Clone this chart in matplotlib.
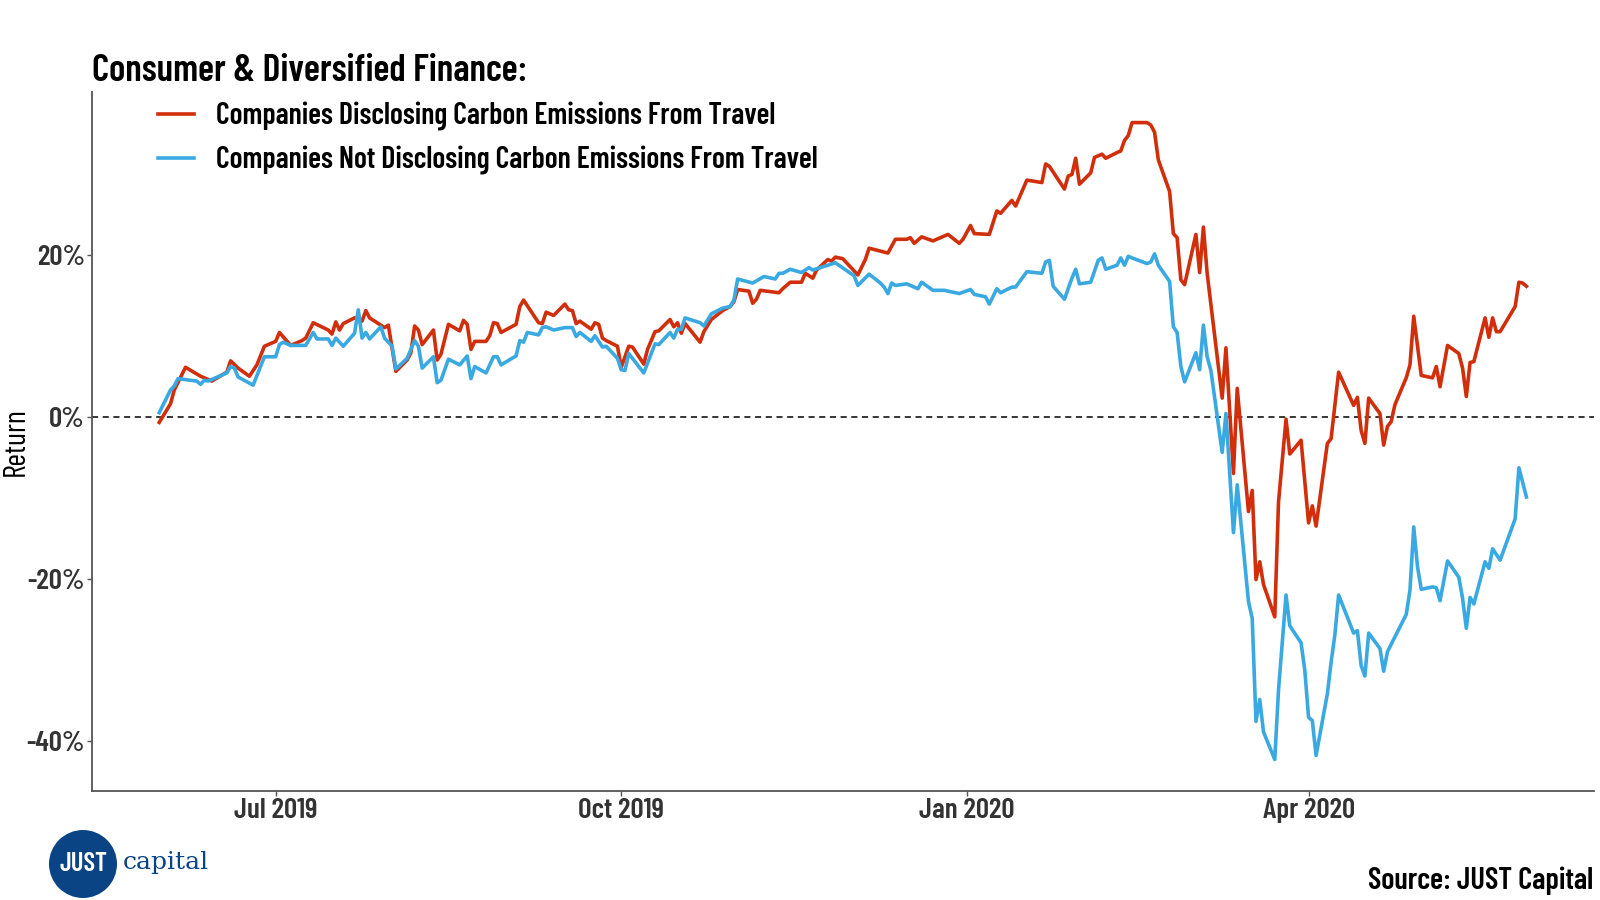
import pandas as pd
import matplotlib
matplotlib.use('Agg')
import matplotlib.pyplot as plt
import matplotlib.dates as mdates
from matplotlib.patches import Circle
from matplotlib.ticker import FuncFormatter

plt.rcParams['font.family'] = ['Barlow Condensed', 'DejaVu Sans']
plt.rcParams['font.stretch'] = 'condensed'
plt.rcParams['font.weight'] = 600

# 数据：按月读取的拐点（日期, 收益率 %）
red_dates = [
    '2019-05-31', '2019-06-03', '2019-06-04', '2019-06-07', '2019-06-11', '2019-06-12', '2019-06-14',
    '2019-06-18', '2019-06-19', '2019-06-21', '2019-06-24', '2019-06-26', '2019-06-28',
    '2019-07-01', '2019-07-02', '2019-07-05', '2019-07-08', '2019-07-09', '2019-07-11', '2019-07-15',
    '2019-07-16', '2019-07-17', '2019-07-18', '2019-07-19', '2019-07-22', '2019-07-24', '2019-07-25',
    '2019-07-26', '2019-07-30', '2019-07-31',
    '2019-08-02', '2019-08-05', '2019-08-06', '2019-08-07', '2019-08-08', '2019-08-09', '2019-08-12',
    '2019-08-13', '2019-08-14', '2019-08-16', '2019-08-19', '2019-08-20', '2019-08-21', '2019-08-22',
    '2019-08-23', '2019-08-26', '2019-08-27', '2019-08-28', '2019-08-29', '2019-08-30',
    '2019-09-03', '2019-09-04', '2019-09-05', '2019-09-06', '2019-09-09', '2019-09-10', '2019-09-11',
    '2019-09-13', '2019-09-16', '2019-09-17', '2019-09-18', '2019-09-19', '2019-09-20', '2019-09-23',
    '2019-09-24', '2019-09-25', '2019-09-26', '2019-09-27', '2019-09-30',
    '2019-10-01', '2019-10-03', '2019-10-04', '2019-10-07', '2019-10-08', '2019-10-10', '2019-10-11',
    '2019-10-14', '2019-10-15', '2019-10-16', '2019-10-17', '2019-10-18', '2019-10-22', '2019-10-23',
    '2019-10-25', '2019-10-28', '2019-10-30', '2019-10-31',
    '2019-11-01', '2019-11-04', '2019-11-05', '2019-11-06', '2019-11-07', '2019-11-12', '2019-11-13',
    '2019-11-15', '2019-11-18', '2019-11-19', '2019-11-21', '2019-11-22', '2019-11-25', '2019-11-26',
    '2019-11-27', '2019-11-29',
    '2019-12-03', '2019-12-05', '2019-12-06', '2019-12-11', '2019-12-13', '2019-12-16', '2019-12-17',
    '2019-12-18', '2019-12-20', '2019-12-23', '2019-12-27', '2019-12-30', '2019-12-31',
    '2020-01-02', '2020-01-03', '2020-01-07', '2020-01-09', '2020-01-10', '2020-01-13', '2020-01-14',
    '2020-01-17', '2020-01-21', '2020-01-22', '2020-01-23', '2020-01-27', '2020-01-28', '2020-01-29',
    '2020-01-30', '2020-01-31',
    '2020-02-03', '2020-02-04', '2020-02-06', '2020-02-07', '2020-02-10', '2020-02-11', '2020-02-12',
    '2020-02-13', '2020-02-14', '2020-02-18', '2020-02-19', '2020-02-20', '2020-02-21', '2020-02-24',
    '2020-02-25', '2020-02-26', '2020-02-27', '2020-02-28',
    '2020-03-02', '2020-03-03', '2020-03-04', '2020-03-05', '2020-03-09', '2020-03-10', '2020-03-12',
    '2020-03-13', '2020-03-16', '2020-03-17', '2020-03-18', '2020-03-19', '2020-03-20', '2020-03-23',
    '2020-03-24', '2020-03-26', '2020-03-27', '2020-03-30',
    '2020-04-01', '2020-04-02', '2020-04-03', '2020-04-06', '2020-04-07', '2020-04-09', '2020-04-13',
    '2020-04-14', '2020-04-15', '2020-04-16', '2020-04-17', '2020-04-20', '2020-04-21', '2020-04-22',
    '2020-04-23', '2020-04-24', '2020-04-27', '2020-04-28', '2020-04-29',
    '2020-05-01', '2020-05-04', '2020-05-05', '2020-05-06', '2020-05-08', '2020-05-11', '2020-05-12',
    '2020-05-13', '2020-05-14', '2020-05-15', '2020-05-18', '2020-05-19', '2020-05-20', '2020-05-21',
    '2020-05-22', '2020-05-26', '2020-05-27', '2020-05-28', '2020-05-29',
]
red_values = [
    -0.7, 1.6, 3.3, 6.1, 5.0, 4.8, 4.4, 5.5, 6.9, 6.0, 5.0, 6.4, 8.7,
    9.3, 10.4, 8.8, 9.4, 9.7, 11.6, 10.7, 10.2, 11.7, 10.7, 11.5, 12.2, 11.8, 13.1, 12.2, 11.0, 11.3,
    5.6, 7.0, 7.9, 11.2, 10.7, 8.9, 10.7, 7.0, 7.7, 11.4, 10.6, 11.9, 11.4, 8.3, 9.3, 9.3, 10.0, 11.6,
    11.5, 10.4,
    11.4, 13.6, 14.4, 13.7, 11.6, 11.5, 12.9, 12.5, 13.9, 13.2, 13.1, 11.5, 11.8, 10.8, 11.6, 11.4,
    9.7, 9.4, 8.7,
    6.1, 8.7, 8.6, 6.5, 8.3, 10.5, 10.6, 12.0, 11.1, 11.6, 10.3, 11.5, 9.2, 10.5, 12.0, 13.1, 13.6, 14.2,
    15.7, 15.5, 14.0, 14.5, 15.6, 15.3, 15.8, 16.6, 16.6, 17.7, 17.1, 18.1, 19.4, 19.2, 19.7, 19.5,
    17.5, 19.4, 20.8, 20.2, 21.9, 21.9, 22.1, 21.4, 22.2, 21.7, 22.5, 21.4, 21.9,
    23.6, 22.6, 22.5, 25.4, 25.1, 26.7, 26.0, 29.2, 28.9, 31.2, 30.9, 28.1, 29.7, 29.9, 31.9, 28.7,
    30.1, 32.0, 32.4, 31.9, 32.6, 32.8, 34.1, 34.7, 36.3, 36.3, 36.0, 35.1, 31.7, 27.8, 22.6, 22.1,
    16.9, 16.3,
    22.5, 17.8, 23.4, 17.7, 2.3, 8.5, -7.0, 3.5, -11.7, -9.1, -20.1, -17.9, -20.7, -24.7, -10.5, -0.3,
    -4.6, -2.9,
    -13.1, -11.0, -13.5, -3.3, -2.7, 5.5, 1.4, 2.4, -1.7, -3.3, 2.3, 0.4, -3.5, -1.2, -0.6, 1.5, 4.8,
    6.4, 12.4,
    5.1, 4.8, 6.2, 3.7, 8.8, 7.8, 6.0, 2.5, 6.7, 6.8, 12.2, 9.8, 12.2, 10.5, 10.5, 13.6, 16.6, 16.5, 16.1,
]

blue_dates = [
    '2019-05-31', '2019-06-03', '2019-06-04', '2019-06-05', '2019-06-10', '2019-06-11', '2019-06-12',
    '2019-06-13', '2019-06-18', '2019-06-19', '2019-06-20', '2019-06-21', '2019-06-25', '2019-06-28',
    '2019-07-01', '2019-07-02', '2019-07-03', '2019-07-05', '2019-07-09', '2019-07-11', '2019-07-12',
    '2019-07-15', '2019-07-16', '2019-07-17', '2019-07-19', '2019-07-22', '2019-07-23', '2019-07-24',
    '2019-07-25', '2019-07-26', '2019-07-29', '2019-07-30',
    '2019-08-01', '2019-08-02', '2019-08-05', '2019-08-07', '2019-08-08', '2019-08-09', '2019-08-12',
    '2019-08-13', '2019-08-14', '2019-08-16', '2019-08-19', '2019-08-21', '2019-08-22', '2019-08-23',
    '2019-08-26', '2019-08-28', '2019-08-29', '2019-08-30',
    '2019-09-03', '2019-09-04', '2019-09-05', '2019-09-06', '2019-09-09', '2019-09-10', '2019-09-11',
    '2019-09-13', '2019-09-16', '2019-09-18', '2019-09-19', '2019-09-20', '2019-09-23', '2019-09-24',
    '2019-09-26', '2019-09-27', '2019-09-30',
    '2019-10-01', '2019-10-02', '2019-10-03', '2019-10-07', '2019-10-10', '2019-10-11', '2019-10-14',
    '2019-10-15', '2019-10-16', '2019-10-17', '2019-10-18', '2019-10-22', '2019-10-23', '2019-10-25',
    '2019-10-28', '2019-10-30', '2019-10-31',
    '2019-11-01', '2019-11-05', '2019-11-08', '2019-11-11', '2019-11-12', '2019-11-13', '2019-11-15',
    '2019-11-18', '2019-11-20', '2019-11-21', '2019-11-27',
    '2019-12-02', '2019-12-03', '2019-12-06', '2019-12-09', '2019-12-10', '2019-12-11', '2019-12-12',
    '2019-12-13', '2019-12-16', '2019-12-19', '2019-12-20', '2019-12-23', '2019-12-26', '2019-12-30',
    '2020-01-02', '2020-01-03', '2020-01-06', '2020-01-07', '2020-01-09', '2020-01-10', '2020-01-13',
    '2020-01-14', '2020-01-17', '2020-01-21', '2020-01-22', '2020-01-23', '2020-01-24', '2020-01-27',
    '2020-01-29', '2020-01-30', '2020-01-31',
    '2020-02-03', '2020-02-05', '2020-02-06', '2020-02-07', '2020-02-10', '2020-02-11', '2020-02-12',
    '2020-02-13', '2020-02-14', '2020-02-18', '2020-02-19', '2020-02-20', '2020-02-21', '2020-02-24',
    '2020-02-25', '2020-02-26', '2020-02-27', '2020-02-28',
    '2020-03-02', '2020-03-03', '2020-03-04', '2020-03-05', '2020-03-06', '2020-03-09', '2020-03-10',
    '2020-03-12', '2020-03-13', '2020-03-16', '2020-03-17', '2020-03-18', '2020-03-19', '2020-03-20',
    '2020-03-23', '2020-03-24', '2020-03-26', '2020-03-27', '2020-03-30', '2020-03-31',
    '2020-04-01', '2020-04-02', '2020-04-03', '2020-04-06', '2020-04-07', '2020-04-08', '2020-04-09',
    '2020-04-13', '2020-04-14', '2020-04-15', '2020-04-16', '2020-04-17', '2020-04-20', '2020-04-21',
    '2020-04-22', '2020-04-27', '2020-04-28', '2020-04-29', '2020-04-30',
    '2020-05-01', '2020-05-04', '2020-05-05', '2020-05-06', '2020-05-08', '2020-05-11', '2020-05-12',
    '2020-05-13', '2020-05-14', '2020-05-15', '2020-05-18', '2020-05-19', '2020-05-20', '2020-05-22',
    '2020-05-26', '2020-05-27', '2020-05-29',
]
blue_values = [
    0.5, 3.3, 3.8, 4.7, 4.4, 4.0, 4.5, 4.4, 5.4, 6.2, 6.0, 4.9, 3.9, 7.4,
    7.4, 8.9, 9.2, 8.8, 8.8, 10.4, 9.6, 9.6, 8.8, 9.7, 8.7, 10.3, 13.2, 9.7, 10.4, 9.6, 11.1, 9.7,
    8.7, 5.9, 7.2, 9.4, 8.7, 6.0, 7.4, 4.2, 4.5, 7.1, 6.4, 7.5, 4.7, 6.2, 5.4, 7.4, 7.4, 6.4,
    7.5, 9.4, 9.2, 10.4, 10.1, 11.0, 11.1, 10.7, 11.0, 11.0, 9.9, 10.4, 9.3, 10.0, 8.6, 8.7, 7.2,
    5.8, 5.7, 7.8, 5.4, 9.0, 8.9, 10.4, 9.7, 10.8, 10.8, 12.2, 11.6, 11.2, 12.7, 13.4, 13.6, 14.4,
    17.0, 16.5, 17.3, 17.0, 17.7, 17.7, 18.2, 17.8, 18.4, 18.1, 19.0,
    17.4, 16.2, 17.6, 16.5, 16.0, 15.2, 16.5, 16.2, 16.4, 15.8, 16.6, 15.6, 15.6, 15.2,
    15.7, 15.1, 14.8, 13.9, 15.8, 15.3, 16.0, 16.0, 17.9, 17.7, 19.1, 19.3, 16.1, 14.5, 17.1, 18.2, 16.4,
    16.6, 19.3, 19.6, 18.2, 18.7, 19.6, 18.7, 19.8, 19.6, 18.9, 19.1, 20.1, 18.7, 16.7, 11.1, 10.4,
    6.2, 4.3,
    7.9, 5.8, 11.3, 7.4, 5.7, -4.4, 0.4, -14.3, -8.4, -22.8, -24.9, -37.6, -34.9, -38.9, -42.3, -33.7,
    -22.0, -25.8, -27.9, -31.3,
    -37.1, -37.5, -41.8, -34.2, -30.3, -26.9, -22.0, -26.7, -26.4, -30.7, -32.0, -26.7, -28.6, -31.4,
    -29.0, -24.4, -21.4, -13.6, -18.5,
    -21.3, -21.0, -21.1, -22.7, -17.8, -19.8, -22.4, -26.1, -22.3, -23.1, -17.9, -18.7, -16.3, -17.7,
    -12.6, -6.3, -9.9,
]

red_label = 'Companies Disclosing Carbon Emissions From Travel'
blue_label = 'Companies Not Disclosing Carbon Emissions From Travel'
tick_dates = ['2019-07-01', '2019-10-01', '2020-01-01', '2020-04-01']
tick_labels = ['Jul 2019', 'Oct 2019', 'Jan 2020', 'Apr 2020']
y_ticks = [-40, -20, 0, 20]

RED = '#d12f0c'
BLUE = '#3aa9e1'
NAVY = '#0b4485'

red = pd.Series(red_values, index=pd.to_datetime(red_dates))
blue = pd.Series(blue_values, index=pd.to_datetime(blue_dates))

fig = plt.figure(figsize=(16, 9), dpi=100)
ax = fig.add_axes([0.0575, 0.121, 0.939, 0.777])

ax.plot(red.index, red.values, color=RED, lw=2.6, label=red_label)
ax.plot(blue.index, blue.values, color=BLUE, lw=2.6, label=blue_label)
ax.axhline(0, color='black', lw=1.1, ls=(0, (4, 3)), zorder=0)

x0 = mdates.date2num(pd.Timestamp('2019-07-01'))
ax.set_xlim(x0 - 48.9, x0 + 351.1)
ax.set_ylim(-46.2, 40.1)

ax.set_xticks(pd.to_datetime(tick_dates))
ax.set_xticklabels(tick_labels)
ax.set_yticks(y_ticks)
ax.yaxis.set_major_formatter(FuncFormatter(lambda v, p: f'{v:.0f}%'))

for s in ['top', 'right']:
    ax.spines[s].set_visible(False)
for s in ['left', 'bottom']:
    ax.spines[s].set_color('#555555')
    ax.spines[s].set_linewidth(1.3)
ax.tick_params(axis='both', length=3.5, width=1, color='#555555', labelsize=21,
               labelcolor='#333333')
ax.tick_params(axis='y', pad=1.5)
ax.tick_params(axis='x', pad=1.5)

ax.set_ylabel('Return', fontsize=22, color='black')
ax.yaxis.set_label_coords(-0.0413, 0.5)

leg = ax.legend(loc='upper left', bbox_to_anchor=(0.0988, 0.887), bbox_transform=fig.transFigure,
                frameon=False, fontsize=21.5, handlelength=1.2, handletextpad=0.75,
                labelspacing=0.5, borderpad=0, borderaxespad=0)
for line in leg.get_lines():
    line.set_linewidth(2.6)

fig.text(0.0575, 0.921, 'Consumer & Diversified Finance:', fontsize=27, va='center', ha='left',
         color='black')
fig.text(0.996, 0.021, 'Source: JUST Capital', fontsize=22, va='center', ha='right', color='black')

# JUST capital 标志
fig.patches.append(Circle((0.83, 0.36), 0.34, transform=fig.dpi_scale_trans, facecolor=NAVY,
                          edgecolor='none'))
fig.text(0.83 / 16, 0.36 / 9, 'JUST', fontsize=19, color='white', ha='center', va='center')
fig.text(123 / 1600, 1 - 862 / 900, 'capital', fontsize=18, color=NAVY, ha='left', va='center',
         family='DejaVu Serif', weight='normal', stretch='normal')

plt.savefig('out.png')
